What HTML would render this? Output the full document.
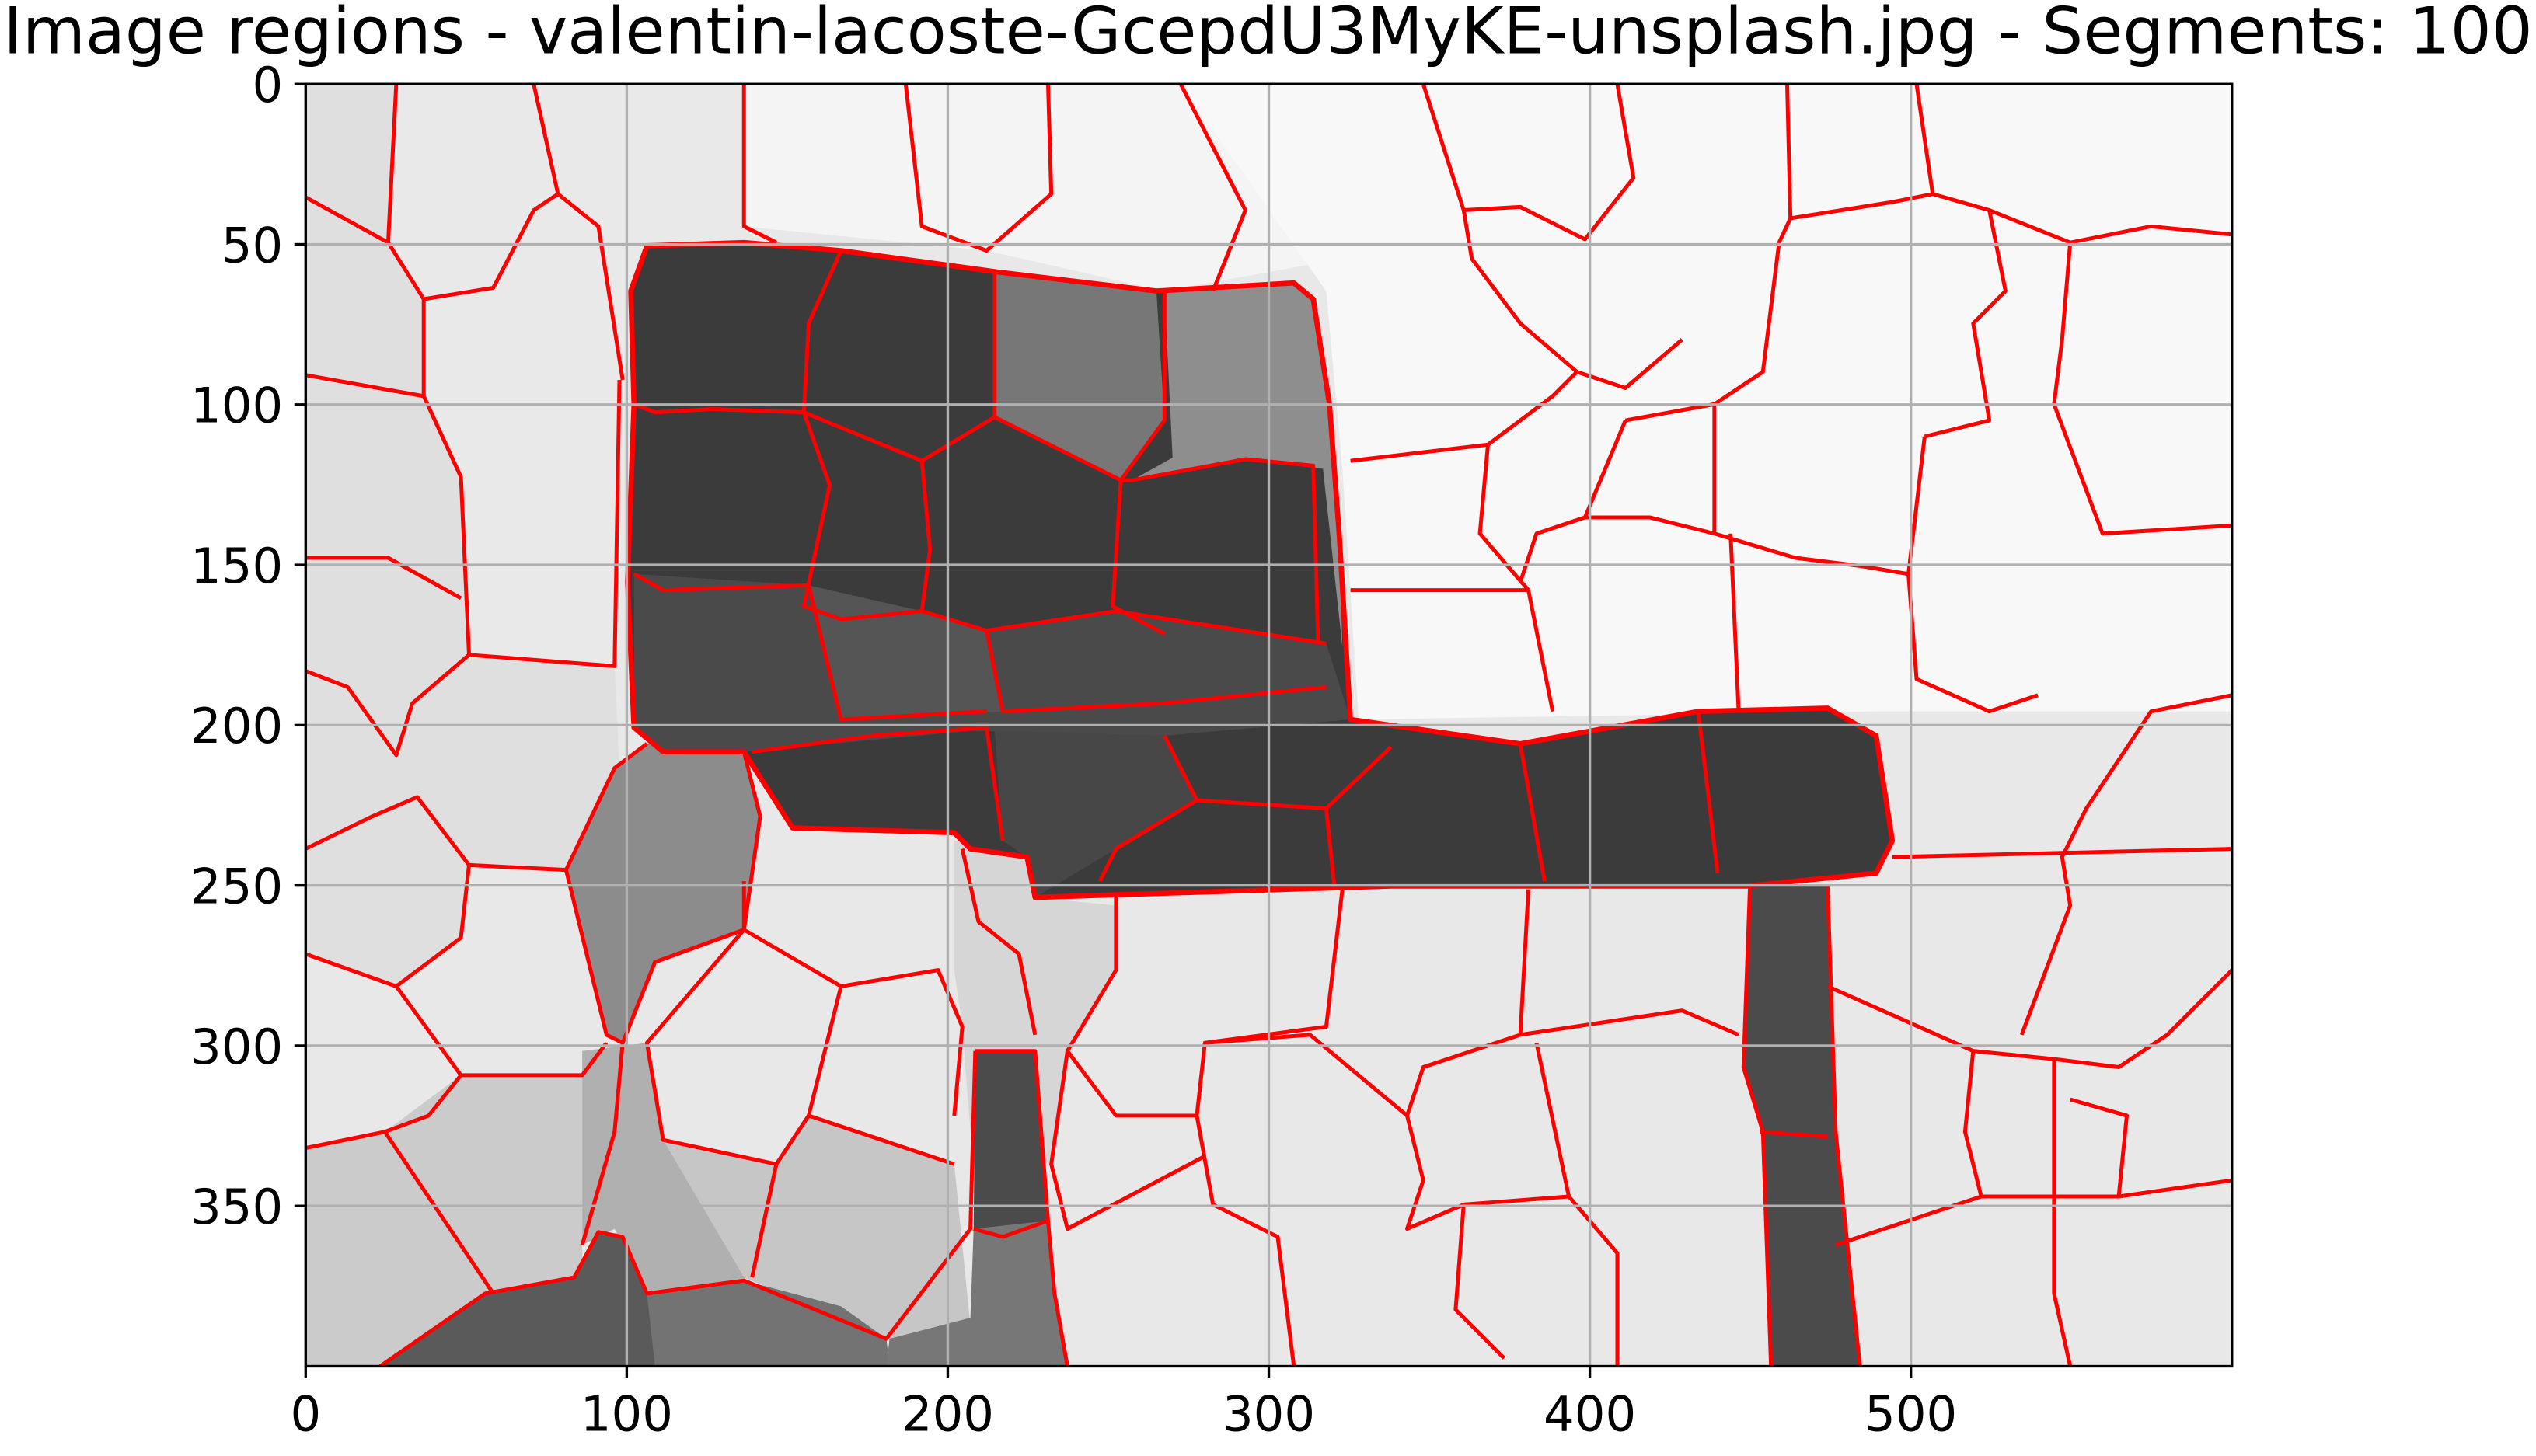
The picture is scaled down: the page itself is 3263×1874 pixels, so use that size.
<!DOCTYPE html>
<html><head><meta charset="utf-8"><style>
html,body{margin:0;padding:0;background:#fff;}
svg{display:block;}
</style></head><body>
<svg id="chart" width="3263" height="1874" viewBox="0 0 1568 900.5" preserveAspectRatio="none" xmlns="http://www.w3.org/2000/svg" font-family="DejaVu Sans, Liberation Sans, sans-serif">
<text x="784" y="33" font-size="40" text-anchor="middle" fill="#000">Image regions - valentin-lacoste-GcepdU3MyKE-unsplash.jpg - Segments: 100</text>
<defs><clipPath id="plotclip"><rect x="189" y="52" width="1191" height="793"/></clipPath></defs>
<g id="image" clip-path="url(#plotclip)">
  <rect x="189" y="52" width="1191" height="793" fill="#e8e8e8"/>
  <polygon points="189,52 245,52 240,150 262,185 262,245 285,295 290,405 380,412 383,475 350,538 290,535 285,580 245,610 189,590" fill="#dfdfdf"/>
  <polygon points="245,52 460,52 460,140 383,235 380,412 290,405 285,295 262,245 262,185 240,150" fill="#e9e9e9"/>
  <polygon points="460,52 830,52 830,160 720,180 610,155 460,140" fill="#f4f4f4"/>
  <polygon points="730,52 1380,52 1380,440 1160,440 840,445 830,290 820,180" fill="#f8f8f8"/>
  <polygon points="189,710 238,700 285,665 360,665 360,845 189,845" fill="#cbcbcb"/>
  <polygon points="360,650 400,645 410,705 480,720 465,790 400,800 380,760 360,770" fill="#b0b0b0"/>
  <polygon points="410,705 480,720 500,690 590,720 600,820 550,828 460,790" fill="#c6c6c6"/>
  <polygon points="590,520 635,525 640,555 690,560 690,600 660,650 650,720 600,700 595,635 590,600" fill="#d6d6d6"/>
  <polygon points="400,460 460,465 470,505 460,575 405,595 385,645 375,640 350,538 380,475" fill="#8c8c8c"/>
  <polygon points="235,845 300,800 355,790 370,762 385,765 400,800 460,792 520,808 548,828 550,845" fill="#5a5a5a"/>
  <polygon points="400,800 460,792 520,808 548,828 550,845 405,845" fill="#737373"/>
  <polygon points="400,152 460,150 520,155 615,168 715,180 800,175 812,185 822,250 828,330 835,445 940,460 1050,440 1130,438 1160,455 1170,520 1160,540 1080,548 860,548 640,555 635,530 600,525 590,515 490,512 460,465 410,465 392,450 388,360 392,250 390,180" fill="#3b3b3b"/>
  <polygon points="615,168 715,180 720,260 693,297 615,258" fill="#777777"/>
  <polygon points="720,180 800,175 812,185 822,250 828,330 830,400 818,290 770,284 700,297 725,283" fill="#8e8e8e"/>
  <polygon points="392,355 500,362 520,383 570,378 610,390 690,378 820,398 835,445 720,455 600,452 460,465 410,465 392,450" fill="#4a4a4a"/>
  <polygon points="500,362 570,378 610,390 620,440 520,445" fill="#555555"/>
  <polygon points="615,452 720,455 740,495 690,525 640,555 635,530 620,520" fill="#474747"/>
  <polygon points="1082,548 1130,548 1135,700 1150,845 1095,845 1090,700 1078,660" fill="#4b4b4b"/>
  <polygon points="603,650 640,650 648,755 652,800 660,845 600,845 602,760" fill="#4b4b4b"/>
  <polygon points="602,760 648,755 652,800 660,845 548,845 550,828 600,815" fill="#777777"/>
  <g fill="none" stroke="#ff0000" stroke-width="2.4" stroke-linejoin="round">
    <polygon points="400,152 460,150 520,155 615,168 715,180 800,175 812,185 822,250 828,330 835,445 940,460 1050,440 1130,438 1160,455 1170,520 1160,540 1080,548 860,548 640,555 635,530 600,525 590,515 490,512 460,465 410,465 392,450 388,360 392,250 390,180" stroke-width="3.2"/>
    <polyline points="615,168 615,258 693,297 720,260 720,180"/>
    <polyline points="693,297 700,297 770,284 812,288 815,398"/>
    <polyline points="520,155 500,200 497,255 513,300 497,375 520,383 570,378 610,390 690,378 820,398"/>
    <polyline points="392,250 405,255 440,253 497,255 570,285 615,258"/>
    <polyline points="570,285 575,340 570,378"/>
    <polyline points="693,297 688,375 720,392"/>
    <polyline points="392,355 410,365 500,362"/>
    <polyline points="610,390 620,440 720,435 820,425"/>
    <polyline points="500,362 520,445 610,440"/>
    <polyline points="465,465 540,455 610,450 620,520"/>
    <polyline points="720,455 740,495 690,525 680,545"/>
    <polyline points="740,495 820,500 860,462"/>
    <polyline points="820,500 825,548"/>
    <polyline points="940,460 955,545"/>
    <polyline points="1050,440 1062,540"/>
    <polyline points="1082,548 1078,660 1090,700 1095,845"/>
    <polyline points="1130,548 1135,700 1150,845"/>
    <polyline points="1088,700 1130,703"/>
    <polyline points="603,650 640,650 648,755 652,800 660,845"/>
    <polyline points="603,650 600,760 548,828 460,792 400,800 385,765 370,762 355,790 300,800 235,845"/>
    <polyline points="602,760 620,765 648,755"/>
    <polyline points="400,460 380,475 350,538 375,640 385,645 380,700 360,770"/>
    <polyline points="460,465 470,505 460,575 405,595 385,645"/>
    <polyline points="245,52 240,150 262,185 262,245 285,295 290,405 380,412 383,235"/>
    <polyline points="189,232 262,245"/>
    <polyline points="262,185 305,178 330,130 345,120 370,140 385,235"/>
    <polyline points="330,52 345,120"/>
    <polyline points="189,345 240,345 285,370"/>
    <polyline points="189,415 215,425 245,467 255,435 290,405"/>
    <polyline points="189,525 230,505 258,493 290,535 350,538"/>
    <polyline points="290,535 285,580 245,610 189,590"/>
    <polyline points="245,610 285,665 360,665 375,645"/>
    <polyline points="189,710 238,700 305,800"/>
    <polyline points="285,665 265,690 238,700"/>
    <polyline points="189,122 240,150"/>
    <polyline points="460,52 460,140 480,150"/>
    <polyline points="560,52 570,140 610,155 650,120 648,52"/>
    <polyline points="730,52 770,130 750,180"/>
    <polyline points="880,52 905,130 940,128 980,148 1010,110 1000,52"/>
    <polyline points="905,130 910,160 940,200 975,230 1005,240 1040,210"/>
    <polyline points="1105,52 1107,135 1170,125 1195,120 1185,52"/>
    <polyline points="1195,120 1230,130 1280,150 1330,140 1380,145"/>
    <polyline points="1280,150 1275,210 1270,250 1300,330 1380,325"/>
    <polyline points="1230,130 1240,180 1220,200 1230,260 1190,270"/>
    <polyline points="1107,135 1100,150 1090,230 1060,250 1005,260"/>
    <polyline points="1005,260 980,320 950,330 940,360"/>
    <polyline points="1060,250 1060,330 1020,320 980,320"/>
    <polyline points="1060,330 1110,345 1150,350 1180,355"/>
    <polyline points="1190,270 1180,355 1185,420 1230,440 1260,430"/>
    <polyline points="1380,430 1330,440 1290,500 1275,530 1280,560 1250,640"/>
    <polyline points="1170,530 1380,525"/>
    <polyline points="1130,610 1220,650 1270,655 1310,660 1340,640 1380,600"/>
    <polyline points="1220,650 1215,700 1225,740 1310,740 1315,690 1280,680"/>
    <polyline points="1135,770 1225,740"/>
    <polyline points="1270,655 1270,800 1280,845"/>
    <polyline points="1310,740 1380,730"/>
    <polyline points="835,285 920,275 915,330 945,365 960,440"/>
    <polyline points="835,365 945,365"/>
    <polyline points="920,275 960,245 975,230"/>
    <polyline points="1070,330 1075,440"/>
    <polyline points="690,555 690,600 660,650 690,690 740,690 745,645 820,635 830,550"/>
    <polyline points="740,690 750,745 790,765 800,845"/>
    <polyline points="745,645 810,640 870,690 880,660 940,640 945,550"/>
    <polyline points="870,690 880,730 870,760 905,745 970,740 950,645"/>
    <polyline points="905,745 900,810 930,840"/>
    <polyline points="940,640 1040,625 1075,640"/>
    <polyline points="970,740 1000,775 1000,845"/>
    <polyline points="660,650 650,720 660,760 745,715"/>
    <polyline points="460,545 460,575 520,610 580,600 595,635 590,690"/>
    <polyline points="520,610 500,690 480,720 410,705 400,645 460,575"/>
    <polyline points="480,720 465,790"/>
    <polyline points="500,690 590,720"/>
    <polyline points="595,525 605,570 630,590 640,640"/>
  </g>
</g>
<g id="grid"></g>
<rect x="189" y="52" width="1191" height="793" fill="none" stroke="#000" stroke-width="1.6"/>
<g id="xaxis"></g>
<g id="yaxis"></g>
</svg>
<script>
const xTicks = [0, 100, 200, 300, 400, 500];
const yTicks = [0, 50, 100, 150, 200, 250, 300, 350];
const imgW = 600, imgH = 400;
const L = 189, R = 1380, T = 52, B = 845;
const NS = "http://www.w3.org/2000/svg";
function sx(v){ return L + v * (R - L) / imgW; }
function sy(v){ return T + v * (B - T) / imgH; }
const grid = document.getElementById('grid');
const xa = document.getElementById('xaxis');
const ya = document.getElementById('yaxis');
function mk(tag, attrs){ const e = document.createElementNS(NS, tag); for (const k in attrs) e.setAttribute(k, attrs[k]); return e; }
xTicks.forEach(v => {
  const x = sx(v);
  const g = mk('line', {x1:x, x2:x, y1:T, y2:B, stroke:'#b0b0b0', 'stroke-width':1.6});
  
  
  grid.appendChild(g);
  const t = mk('line', {x1:x, x2:x, y1:B, y2:B+7, stroke:'#000', 'stroke-width':1.6});
  
  
  xa.appendChild(t);
  const lb = mk('text', {x:x, y:B+40, 'font-size':30, 'text-anchor':'middle', fill:'#000'});
  lb.textContent = v;
  
  
  xa.appendChild(lb);
});
yTicks.forEach(v => {
  const y = sy(v);
  const g = mk('line', {x1:L, x2:R, y1:y, y2:y, stroke:'#b0b0b0', 'stroke-width':1.6});
  
  
  grid.appendChild(g);
  const t = mk('line', {x1:L-7, x2:L, y1:y, y2:y, stroke:'#000', 'stroke-width':1.6});
  
  
  ya.appendChild(t);
  const lb = mk('text', {x:L-14, y:y+11, 'font-size':30, 'text-anchor':'end', fill:'#000'});
  lb.textContent = v;
  
  
  ya.appendChild(lb);
});
</script>
</body></html>
